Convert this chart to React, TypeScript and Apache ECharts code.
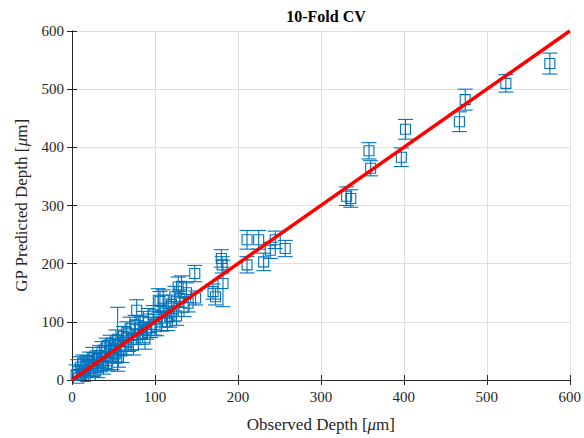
import React, { useEffect, useRef } from "react";
import * as echarts from "echarts";

// Observed vs. GP-predicted depth (µm) with ±1σ prediction error, 10-fold CV
const observedDepth = [
  5, 7, 8, 10, 12, 13, 15, 16, 18, 20, 21, 23, 25, 26, 28, 30, 31, 33, 35, 36,
  38, 40, 41, 43, 45, 46, 48, 50, 52, 53, 55, 56, 58, 60, 62, 64, 66, 68, 70, 72,
  74, 76, 78, 80, 82, 85, 86, 88, 90, 92, 95, 98, 100, 102, 104, 106, 108, 110, 112, 115,
  118, 120, 122, 124, 126, 128, 130, 132, 135, 138, 140,
  148, 149, 170, 173, 180, 181, 182, 211, 211, 225, 231, 239, 245, 257,
  331, 336, 358, 360, 397, 402, 467, 474, 523, 576,
];
const predictedDepth = [
  8, 15, 3, 22, 10, 28, 18, 6, 25, 14, 32, 20, 38, 27, 15, 35, 22, 42, 30, 48,
  25, 40, 55, 33, 50, 62, 38, 55, 45, 68, 70, 40, 60, 50, 75, 58, 82, 65, 88, 70,
  60, 95, 120, 78, 90, 80, 100, 70, 85, 105, 90, 112, 95, 92, 137, 135, 100, 137, 115, 100,
  109, 130, 118, 143, 110, 160, 140, 161, 125, 150, 132,
  183, 141, 152, 143, 209, 198, 166, 241, 198, 241, 203, 223, 241, 226,
  316, 312, 394, 364, 383, 431, 444, 482, 510, 544,
];
const predictionError = [
  18, 20, 15, 18, 16, 15, 20, 14, 17, 18, 16, 15, 18, 20, 16, 15, 18, 17, 16, 18,
  15, 20, 17, 16, 18, 15, 20, 17, 16, 18, 55, 18, 16, 20, 17, 15, 18, 16, 20, 18,
  17, 16, 18, 17, 20, 16, 18, 17, 15, 18, 17, 16, 18, 16, 20, 17, 16, 18, 17, 15,
  18, 16, 17, 18, 16, 17, 15, 18, 16, 17, 15,
  14, 12, 13, 14, 15, 14, 40, 16, 14, 16, 15, 14, 15, 14,
  16, 15, 14, 13, 16, 17, 17, 18, 15, 18,
];
const tickValues = [0, 100, 200, 300, 400, 500, 600];

const BLUE = "#0072BD";
const FONT = "Liberation Serif";

export default function App() {
  const ref = useRef<HTMLDivElement>(null);

  useEffect(() => {
    if (!ref.current) return;
    const chart = echarts.init(ref.current, null, { renderer: "svg" });

    const points = observedDepth.map((x, i) => [x, predictedDepth[i], predictionError[i]]);

    const axisCommon = {
      type: "value" as const,
      min: 0,
      max: 600,
      interval: 100,
      axisLine: { show: true, lineStyle: { color: "#262626", width: 1 } },
      axisTick: { show: true, inside: true, length: 5, lineStyle: { color: "#262626" } },
    };

    chart.setOption({
      animation: false,
      backgroundColor: "#ffffff",
      title: {
        text: "10-Fold CV",
        left: 321,
        top: 3,
        textAlign: "center",
        textStyle: { fontFamily: FONT, fontSize: 16, fontWeight: "bold", color: "#000" },
      },
      grid: { left: 72, right: 14, top: 31, bottom: 58 },
      xAxis: [
        {
          ...axisCommon,
          position: "bottom",
          name: "Observed Depth [{i|μ}m]",
          nameLocation: "middle",
          nameGap: 36,
          nameTextStyle: {
            fontFamily: FONT,
            fontSize: 17,
            color: "#262626",
            rich: { i: { fontFamily: FONT, fontStyle: "italic", fontSize: 17, color: "#262626" } },
          },
          axisLabel: {
            fontFamily: FONT,
            fontSize: 15,
            color: "#262626",
            margin: 9,
            formatter: (v: number) => (tickValues.includes(v) ? String(v) : ""),
          },
          splitLine: { show: true, lineStyle: { color: "#dfdfdf", width: 1 } },
        },
        {
          ...axisCommon,
          position: "top",
          axisLabel: { show: false },
          splitLine: { show: false },
        },
      ],
      yAxis: [
        {
          ...axisCommon,
          position: "left",
          name: "GP Predicted Depth [{i|μ}m]",
          nameLocation: "middle",
          nameGap: 42,
          nameTextStyle: {
            fontFamily: FONT,
            fontSize: 17,
            color: "#262626",
            rich: { i: { fontFamily: FONT, fontStyle: "italic", fontSize: 17, color: "#262626" } },
          },
          axisLabel: { fontFamily: FONT, fontSize: 15, color: "#262626", margin: 8 },
          splitLine: { show: true, lineStyle: { color: "#dfdfdf", width: 1 } },
        },
        {
          ...axisCommon,
          position: "right",
          axisLabel: { show: false },
          splitLine: { show: false },
        },
      ],
      series: [
        {
          type: "custom",
          xAxisIndex: 0,
          yAxisIndex: 0,
          clip: false,
          data: points,
          renderItem: (params: any, api: any) => {
            const x = api.value(0);
            const y = api.value(1);
            const e = api.value(2);
            const lo = y - e;
            const hi = Math.min(y + e, 600);
            const c = api.coord([x, y]);
            const top = api.coord([x, hi]);
            const bot = api.coord([x, Math.max(lo, 0)]);
            const cap = 7.5;
            const half = 5;
            const stroke = { stroke: BLUE, lineWidth: 1.1, fill: "none" };
            const children: any[] = [
              { type: "line", shape: { x1: c[0], y1: top[1], x2: c[0], y2: bot[1] }, style: stroke },
              { type: "line", shape: { x1: c[0] - cap, y1: top[1], x2: c[0] + cap, y2: top[1] }, style: stroke },
              {
                type: "rect",
                shape: { x: c[0] - half, y: c[1] - half, width: half * 2, height: half * 2 },
                style: stroke,
              },
            ];
            if (lo >= 0) {
              children.push({
                type: "line",
                shape: { x1: c[0] - cap, y1: bot[1], x2: c[0] + cap, y2: bot[1] },
                style: stroke,
              });
            }
            return { type: "group", children };
          },
          z: 2,
        },
        {
          type: "line",
          xAxisIndex: 0,
          yAxisIndex: 0,
          data: [
            [0, 0],
            [600, 600],
          ],
          symbol: "none",
          lineStyle: { color: "#ff0000", width: 3.5 },
          z: 3,
        },
      ],
    });

    return () => chart.dispose();
  }, []);

  return (
    <div
      ref={ref}
      style={{ position: "fixed", left: 0, top: 0, width: 584, height: 438, background: "#fff" }}
    />
  );
}
